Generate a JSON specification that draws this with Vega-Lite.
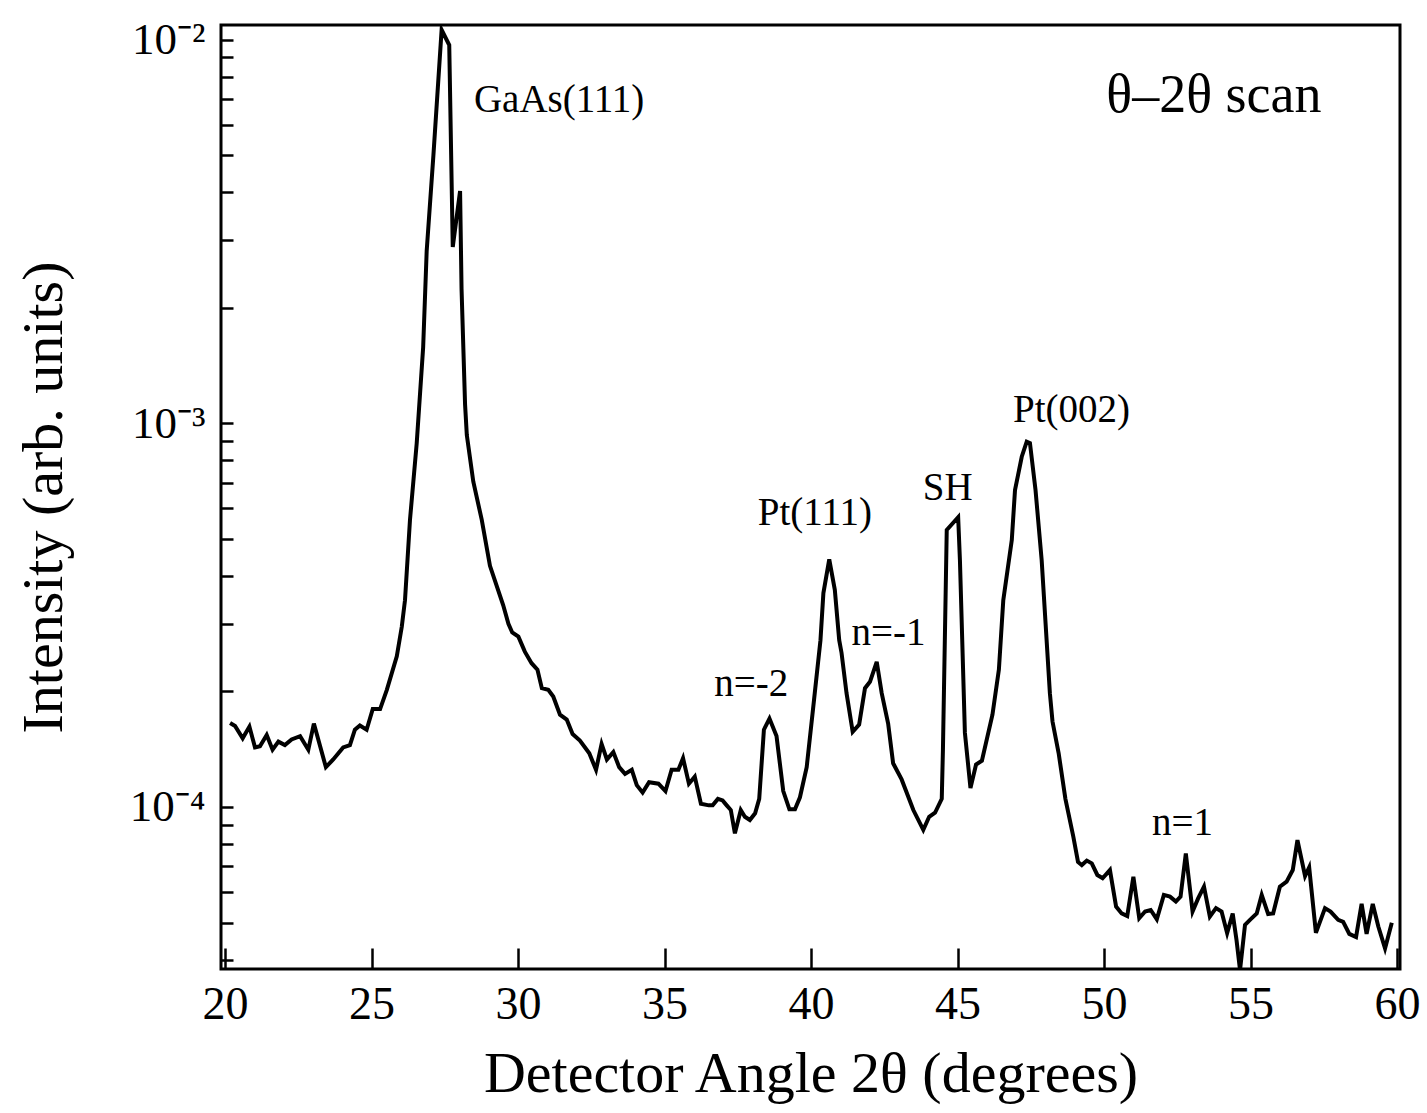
{
  "$schema": "https://vega.github.io/schema/vega-lite/v6.json",
  "width": 1179,
  "height": 944,
  "autosize": "none",
  "padding": {"left": 221, "top": 25, "right": 27, "bottom": 144},
  "background": "white",
  "config": {
    "view": {"stroke": "black", "strokeWidth": 3},
    "font": "Liberation Serif"
  },
  "datasets": {
    "scan": [
      {"angle": 20.17, "intensity": 1.655e-4},
      {"angle": 20.34, "intensity": 1.626e-4},
      {"angle": 20.60, "intensity": 1.51e-4},
      {"angle": 20.83, "intensity": 1.62e-4},
      {"angle": 21.02, "intensity": 1.43e-4},
      {"angle": 21.19, "intensity": 1.44e-4},
      {"angle": 21.42, "intensity": 1.54e-4},
      {"angle": 21.62, "intensity": 1.41e-4},
      {"angle": 21.82, "intensity": 1.48e-4},
      {"angle": 22.04, "intensity": 1.45e-4},
      {"angle": 22.27, "intensity": 1.50e-4},
      {"angle": 22.56, "intensity": 1.53e-4},
      {"angle": 22.84, "intensity": 1.41e-4},
      {"angle": 23.03, "intensity": 1.65e-4},
      {"angle": 23.44, "intensity": 1.27e-4},
      {"angle": 23.69, "intensity": 1.33e-4},
      {"angle": 24.03, "intensity": 1.43e-4},
      {"angle": 24.26, "intensity": 1.45e-4},
      {"angle": 24.43, "intensity": 1.59e-4},
      {"angle": 24.60, "intensity": 1.63e-4},
      {"angle": 24.83, "intensity": 1.59e-4},
      {"angle": 25.04, "intensity": 1.80e-4},
      {"angle": 25.29, "intensity": 1.80e-4},
      {"angle": 25.52, "intensity": 2.02e-4},
      {"angle": 25.86, "intensity": 2.47e-4},
      {"angle": 26.03, "intensity": 2.95e-4},
      {"angle": 26.14, "intensity": 3.46e-4},
      {"angle": 26.31, "intensity": 5.60e-4},
      {"angle": 26.54, "intensity": 8.88e-4},
      {"angle": 26.76, "intensity": 1.58e-3},
      {"angle": 26.88, "intensity": 2.81e-3},
      {"angle": 27.11, "intensity": 5.0e-3},
      {"angle": 27.39, "intensity": 1.06e-2},
      {"angle": 27.65, "intensity": 9.67e-3},
      {"angle": 27.77, "intensity": 2.88e-3},
      {"angle": 28.02, "intensity": 4.03e-3},
      {"angle": 28.07, "intensity": 2.24e-3},
      {"angle": 28.19, "intensity": 1.12e-3},
      {"angle": 28.25, "intensity": 9.32e-4},
      {"angle": 28.47, "intensity": 7.05e-4},
      {"angle": 28.76, "intensity": 5.60e-4},
      {"angle": 29.04, "intensity": 4.25e-4},
      {"angle": 29.49, "intensity": 3.36e-4},
      {"angle": 29.67, "intensity": 3.00e-4},
      {"angle": 29.80, "intensity": 2.85e-4},
      {"angle": 30.01, "intensity": 2.78e-4},
      {"angle": 30.23, "intensity": 2.54e-4},
      {"angle": 30.46, "intensity": 2.37e-4},
      {"angle": 30.66, "intensity": 2.28e-4},
      {"angle": 30.81, "intensity": 2.04e-4},
      {"angle": 31.03, "intensity": 2.02e-4},
      {"angle": 31.20, "intensity": 1.94e-4},
      {"angle": 31.43, "intensity": 1.74e-4},
      {"angle": 31.66, "intensity": 1.69e-4},
      {"angle": 31.86, "intensity": 1.55e-4},
      {"angle": 32.11, "intensity": 1.49e-4},
      {"angle": 32.43, "intensity": 1.38e-4},
      {"angle": 32.66, "intensity": 1.25e-4},
      {"angle": 32.85, "intensity": 1.46e-4},
      {"angle": 33.03, "intensity": 1.33e-4},
      {"angle": 33.25, "intensity": 1.39e-4},
      {"angle": 33.45, "intensity": 1.27e-4},
      {"angle": 33.65, "intensity": 1.22e-4},
      {"angle": 33.88, "intensity": 1.25e-4},
      {"angle": 34.05, "intensity": 1.14e-4},
      {"angle": 34.25, "intensity": 1.09e-4},
      {"angle": 34.47, "intensity": 1.16e-4},
      {"angle": 34.79, "intensity": 1.15e-4},
      {"angle": 35.03, "intensity": 1.10e-4},
      {"angle": 35.24, "intensity": 1.25e-4},
      {"angle": 35.47, "intensity": 1.25e-4},
      {"angle": 35.63, "intensity": 1.34e-4},
      {"angle": 35.83, "intensity": 1.15e-4},
      {"angle": 36.03, "intensity": 1.20e-4},
      {"angle": 36.24, "intensity": 1.02e-4},
      {"angle": 36.51, "intensity": 1.01e-4},
      {"angle": 36.64, "intensity": 1.01e-4},
      {"angle": 36.82, "intensity": 1.05e-4},
      {"angle": 36.98, "intensity": 1.04e-4},
      {"angle": 37.12, "intensity": 1.01e-4},
      {"angle": 37.26, "intensity": 9.82e-5},
      {"angle": 37.40, "intensity": 8.54e-5},
      {"angle": 37.60, "intensity": 9.82e-5},
      {"angle": 37.74, "intensity": 9.43e-5},
      {"angle": 37.91, "intensity": 9.25e-5},
      {"angle": 38.09, "intensity": 9.63e-5},
      {"angle": 38.23, "intensity": 1.05e-4},
      {"angle": 38.39, "intensity": 1.59e-4},
      {"angle": 38.58, "intensity": 1.70e-4},
      {"angle": 38.82, "intensity": 1.53e-4},
      {"angle": 39.05, "intensity": 1.10e-4},
      {"angle": 39.26, "intensity": 9.86e-5},
      {"angle": 39.45, "intensity": 9.86e-5},
      {"angle": 39.62, "intensity": 1.06e-4},
      {"angle": 39.85, "intensity": 1.27e-4},
      {"angle": 40.10, "intensity": 1.90e-4},
      {"angle": 40.32, "intensity": 2.72e-4},
      {"angle": 40.42, "intensity": 3.61e-4},
      {"angle": 40.62, "intensity": 4.42e-4},
      {"angle": 40.81, "intensity": 3.68e-4},
      {"angle": 40.96, "intensity": 2.72e-4},
      {"angle": 41.04, "intensity": 2.52e-4},
      {"angle": 41.21, "intensity": 1.98e-4},
      {"angle": 41.42, "intensity": 1.57e-4},
      {"angle": 41.64, "intensity": 1.64e-4},
      {"angle": 41.84, "intensity": 2.04e-4},
      {"angle": 42.01, "intensity": 2.12e-4},
      {"angle": 42.24, "intensity": 2.39e-4},
      {"angle": 42.41, "intensity": 1.98e-4},
      {"angle": 42.63, "intensity": 1.65e-4},
      {"angle": 42.80, "intensity": 1.30e-4},
      {"angle": 43.09, "intensity": 1.18e-4},
      {"angle": 43.49, "intensity": 9.82e-5},
      {"angle": 43.83, "intensity": 8.72e-5},
      {"angle": 44.03, "intensity": 9.43e-5},
      {"angle": 44.23, "intensity": 9.66e-5},
      {"angle": 44.46, "intensity": 1.05e-4},
      {"angle": 44.50, "intensity": 1.41e-4},
      {"angle": 44.63, "intensity": 5.27e-4},
      {"angle": 45.02, "intensity": 5.69e-4},
      {"angle": 45.08, "intensity": 4.40e-4},
      {"angle": 45.25, "intensity": 1.56e-4},
      {"angle": 45.44, "intensity": 1.12e-4},
      {"angle": 45.63, "intensity": 1.29e-4},
      {"angle": 45.83, "intensity": 1.32e-4},
      {"angle": 46.19, "intensity": 1.74e-4},
      {"angle": 46.41, "intensity": 2.28e-4},
      {"angle": 46.56, "intensity": 3.46e-4},
      {"angle": 46.85, "intensity": 4.96e-4},
      {"angle": 46.96, "intensity": 6.70e-4},
      {"angle": 47.19, "intensity": 8.18e-4},
      {"angle": 47.36, "intensity": 8.95e-4},
      {"angle": 47.47, "intensity": 8.88e-4},
      {"angle": 47.66, "intensity": 6.70e-4},
      {"angle": 47.87, "intensity": 4.40e-4},
      {"angle": 48.15, "intensity": 1.98e-4},
      {"angle": 48.24, "intensity": 1.67e-4},
      {"angle": 48.45, "intensity": 1.38e-4},
      {"angle": 48.68, "intensity": 1.05e-4},
      {"angle": 48.95, "intensity": 8.37e-5},
      {"angle": 49.11, "intensity": 7.19e-5},
      {"angle": 49.24, "intensity": 7.06e-5},
      {"angle": 49.41, "intensity": 7.25e-5},
      {"angle": 49.58, "intensity": 7.13e-5},
      {"angle": 49.77, "intensity": 6.65e-5},
      {"angle": 49.95, "intensity": 6.52e-5},
      {"angle": 50.20, "intensity": 6.85e-5},
      {"angle": 50.41, "intensity": 5.50e-5},
      {"angle": 50.60, "intensity": 5.28e-5},
      {"angle": 50.79, "intensity": 5.20e-5},
      {"angle": 51.00, "intensity": 6.58e-5},
      {"angle": 51.20, "intensity": 5.13e-5},
      {"angle": 51.40, "intensity": 5.34e-5},
      {"angle": 51.59, "intensity": 5.39e-5},
      {"angle": 51.80, "intensity": 5.10e-5},
      {"angle": 52.04, "intensity": 5.90e-5},
      {"angle": 52.25, "intensity": 5.84e-5},
      {"angle": 52.45, "intensity": 5.67e-5},
      {"angle": 52.61, "intensity": 5.84e-5},
      {"angle": 52.79, "intensity": 7.57e-5},
      {"angle": 53.02, "intensity": 5.34e-5},
      {"angle": 53.21, "intensity": 5.78e-5},
      {"angle": 53.41, "intensity": 6.20e-5},
      {"angle": 53.61, "intensity": 5.18e-5},
      {"angle": 53.82, "intensity": 5.45e-5},
      {"angle": 54.01, "intensity": 5.34e-5},
      {"angle": 54.20, "intensity": 4.69e-5},
      {"angle": 54.39, "intensity": 5.28e-5},
      {"angle": 54.52, "intensity": 4.50e-5},
      {"angle": 54.64, "intensity": 3.76e-5},
      {"angle": 54.81, "intensity": 4.93e-5},
      {"angle": 54.98, "intensity": 5.08e-5},
      {"angle": 55.21, "intensity": 5.28e-5},
      {"angle": 55.38, "intensity": 5.90e-5},
      {"angle": 55.60, "intensity": 5.26e-5},
      {"angle": 55.77, "intensity": 5.28e-5},
      {"angle": 56.00, "intensity": 6.20e-5},
      {"angle": 56.23, "intensity": 6.39e-5},
      {"angle": 56.44, "intensity": 6.85e-5},
      {"angle": 56.60, "intensity": 8.20e-5},
      {"angle": 56.86, "intensity": 6.61e-5},
      {"angle": 57.00, "intensity": 6.96e-5},
      {"angle": 57.23, "intensity": 4.70e-5},
      {"angle": 57.54, "intensity": 5.45e-5},
      {"angle": 57.73, "intensity": 5.34e-5},
      {"angle": 57.99, "intensity": 5.08e-5},
      {"angle": 58.16, "intensity": 5.02e-5},
      {"angle": 58.37, "intensity": 4.67e-5},
      {"angle": 58.60, "intensity": 4.58e-5},
      {"angle": 58.79, "intensity": 5.59e-5},
      {"angle": 58.96, "intensity": 4.67e-5},
      {"angle": 59.17, "intensity": 5.59e-5},
      {"angle": 59.36, "intensity": 4.88e-5},
      {"angle": 59.59, "intensity": 4.28e-5},
      {"angle": 59.82, "intensity": 4.99e-5}
    ],
    "peaks": [
      {"angle": 31.40, "intensity": 6.955e-3, "label": "GaAs(111)"},
      {"angle": 40.13, "intensity": 5.836e-4, "label": "Pt(111)"},
      {"angle": 42.64, "intensity": 2.84e-4, "label": "n=-1"},
      {"angle": 37.96, "intensity": 2.09e-4, "label": "n=-2"},
      {"angle": 44.66, "intensity": 6.80e-4, "label": "SH"},
      {"angle": 48.89, "intensity": 1.086e-3, "label": "Pt(002)"},
      {"angle": 52.68, "intensity": 9.08e-5, "label": "n=1"}
    ],
    "scanlabel": [
      {"angle": 53.75, "intensity": 7.125e-3, "label": "θ–2θ scan"}
    ]
  },
  "layer": [
    {
      "data": {"name": "scan"},
      "mark": {"type": "line", "color": "black", "strokeWidth": 4, "clip": true, "strokeJoin": "miter"},
      "encoding": {
        "x": {
          "field": "angle", "type": "quantitative",
          "scale": {"domain": [19.86, 60.1], "nice": false, "zero": false},
          "axis": {
            "values": [20, 25, 30, 35, 40, 45, 50, 55, 60],
            "format": "d",
            "domain": false, "grid": false,
            "tickSize": -21, "tickWidth": 2.5, "tickColor": "black",
            "labelFont": "Liberation Serif", "labelFontSize": 46, "labelColor": "black",
            "labelPadding": 34, "labelFlush": false, "labelOverlap": false,
            "title": "Detector Angle 2θ (degrees)",
            "titleFont": "Liberation Serif", "titleFontSize": 58, "titleFontWeight": "normal",
            "titleColor": "black", "titlePadding": 18
          }
        },
        "y": {
          "field": "intensity", "type": "quantitative",
          "scale": {"type": "log", "domain": [3.783e-5, 0.01091], "nice": false},
          "axis": {
            "values": [4e-5, 5e-5, 6e-5, 7e-5, 8e-5, 9e-5, 1e-4, 2e-4, 3e-4, 4e-4, 5e-4, 6e-4, 7e-4, 8e-4, 9e-4, 1e-3, 2e-3, 3e-3, 4e-3, 5e-3, 6e-3, 7e-3, 8e-3, 9e-3, 1e-2],
            "labelExpr": "(datum.value > 0.0099 && datum.value < 0.0101) ? '10⁻²' : (datum.value > 0.00099 && datum.value < 0.00101) ? '10⁻³' : (datum.value > 0.000099 && datum.value < 0.000101) ? '10⁻⁴' : ''",
            "domain": false, "grid": false,
            "tickSize": -12, "tickWidth": 2.5, "tickColor": "black",
            "labelFont": "Liberation Serif", "labelFontSize": 45, "labelColor": "black",
            "labelPadding": 28, "labelOverlap": false, "labelFlush": false,
            "title": "Intensity (arb. units)",
            "titleFont": "Liberation Serif", "titleFontSize": 58, "titleFontWeight": "normal",
            "titleColor": "black", "titlePadding": 56,
            "encode": {
              "ticks": {
                "update": {
                  "x2": {"signal": "(abs(log(datum.value)/LN10 - round(log(datum.value)/LN10)) < 0.01) ? 22 : 12"}
                }
              }
            }
          }
        }
      }
    },
    {
      "data": {"name": "peaks"},
      "mark": {"type": "text", "font": "Liberation Serif", "fontSize": 39, "color": "black", "align": "center", "baseline": "middle"},
      "encoding": {
        "x": {"field": "angle", "type": "quantitative"},
        "y": {"field": "intensity", "type": "quantitative"},
        "text": {"field": "label"}
      }
    },
    {
      "data": {"name": "scanlabel"},
      "mark": {"type": "text", "font": "Liberation Serif", "fontSize": 54, "color": "black", "align": "center", "baseline": "middle"},
      "encoding": {
        "x": {"field": "angle", "type": "quantitative"},
        "y": {"field": "intensity", "type": "quantitative"},
        "text": {"field": "label"}
      }
    }
  ]
}
